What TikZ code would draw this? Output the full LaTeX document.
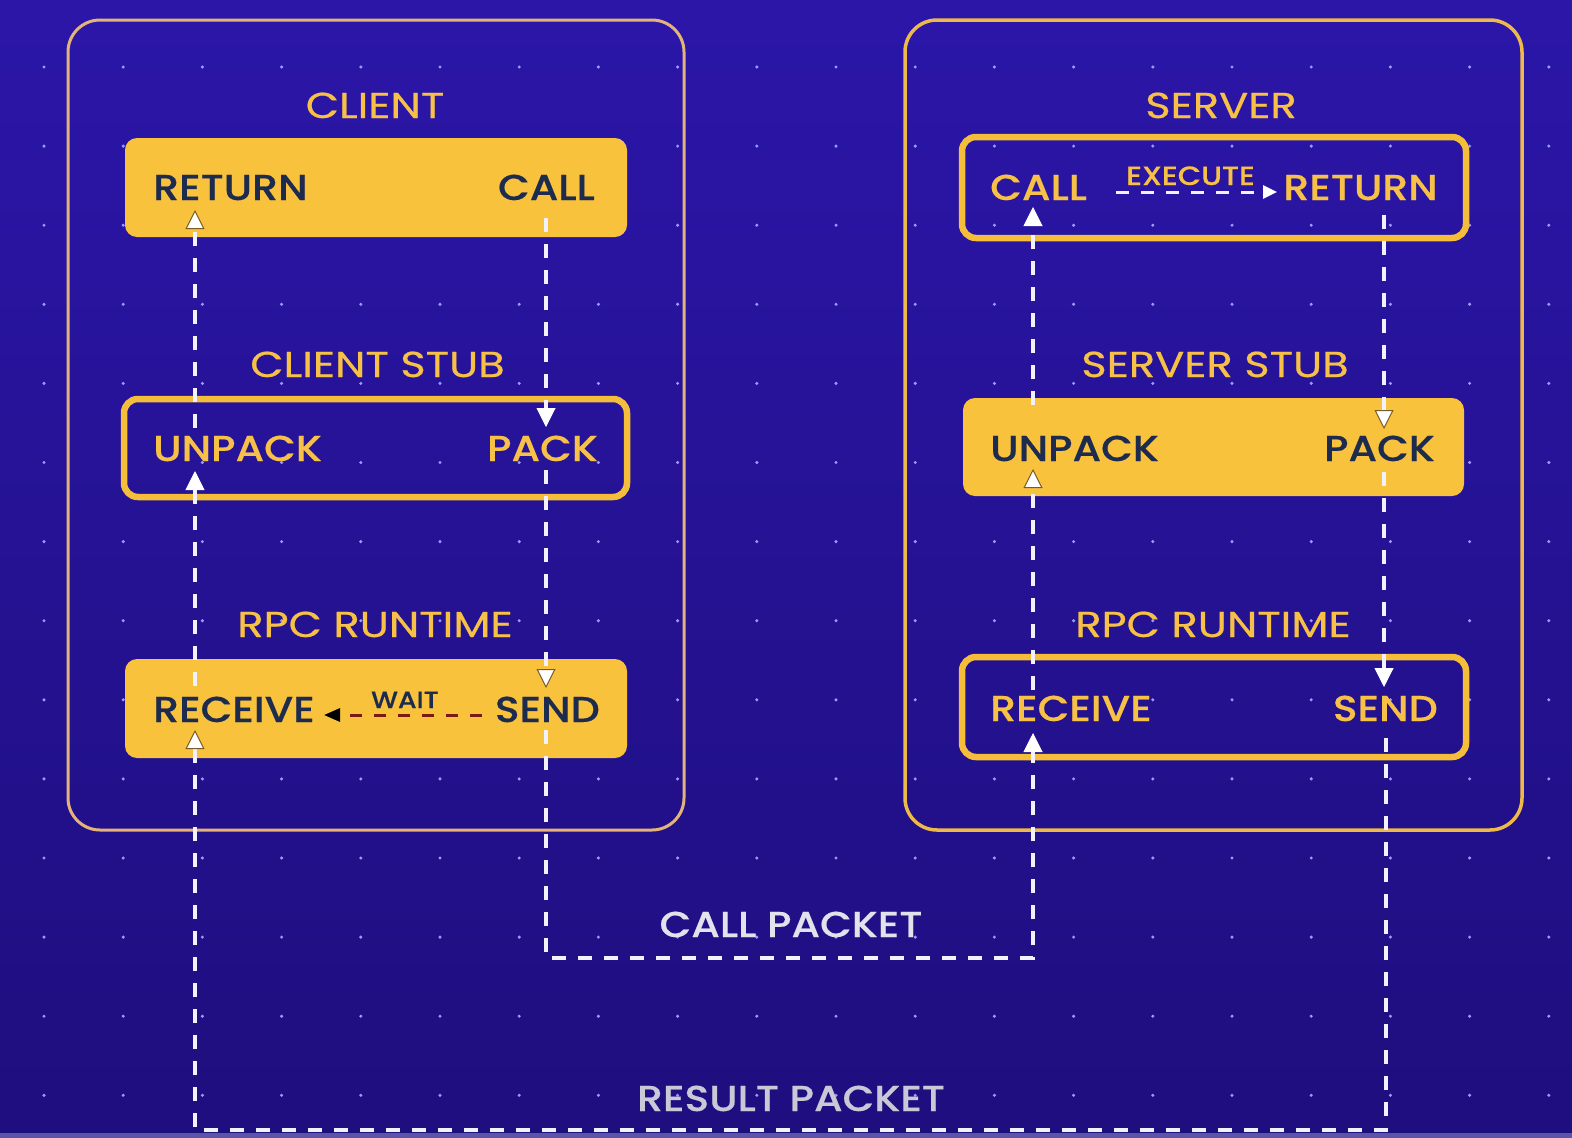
\documentclass[tikz,border=0pt]{standalone}
\usepackage{fontspec}
\usetikzlibrary{arrows.meta}
\IfFontExistsTF{Poppins Medium}{%
  \newfontfamily\lblfont{Poppins Medium}[FakeStretch=1.14,FakeBold=0.4]}{%
  \newfontfamily\lblfont{Poppins}[FakeStretch=1.14,FakeBold=1.8]}
\newfontfamily\ttlfont{Poppins}[FakeStretch=1.2,FakeBold=0.6]
\definecolor{bgtop}{HTML}{2B16A8}
\definecolor{bgmid}{HTML}{2812A0}
\definecolor{bgbot}{HTML}{1E0E7E}
\definecolor{dotc}{HTML}{9A9AFF}
\definecolor{ybox}{HTML}{F9C23C}
\definecolor{yline}{HTML}{F5BE3A}
\definecolor{ytext}{HTML}{F6C146}
\definecolor{navy}{HTML}{1C2B4E}
\definecolor{couterc}{HTML}{E4B37A}
\definecolor{souterc}{HTML}{EDB94A}
\definecolor{lanec}{HTML}{F2F2FF}
\definecolor{tipline}{HTML}{7A5A28}
\definecolor{waitc}{HTML}{7A1A10}
\definecolor{pkt}{HTML}{E2E2EC}
\definecolor{pktb}{HTML}{C8C8D6}
\definecolor{stripc}{HTML}{5B55A8}
\begin{document}
\begin{tikzpicture}[x=1pt,y=-1pt,
  fillbox/.style={draw=none,fill=ybox,rounded corners=12pt,inner sep=0pt},
  linebox/.style={draw=yline,line width=6.5pt,rounded corners=14pt,inner sep=0pt},
  outerbox/.style={line width=3pt,rounded corners=32pt,inner sep=0pt,minimum width=616pt,minimum height=810pt},
  lbl/.style={font=\lblfont\fontsize{36}{40}\selectfont,inner sep=0pt},
  ttl/.style={font=\ttlfont\fontsize{36}{40}\selectfont,inner sep=0pt,text=ytext},
  pktlbl/.style={font=\lblfont\fontsize{36}{40}\selectfont,inner sep=0pt},
  lane/.style={draw=lanec,line width=4pt,dash pattern=on 14pt off 12pt},
  tipy/.style={-{Triangle[width=19pt,length=19pt,fill=white,color=tipline,line width=1pt]}},
  tipb/.style={-{Triangle[width=19pt,length=19pt,fill=white,color=white,line width=1pt]}},
]
\useasboundingbox (0,0) rectangle (1572,1138);
% background
\shade[top color=bgtop,middle color=bgmid,bottom color=bgbot] (0,0) rectangle (1572,1138);
\fill[stripc] (0,1133) rectangle (1572,1138);
% dots
\foreach \i in {0,...,19}{
  \foreach \j in {0,...,13}{
    \fill[dotc] (44+79.2*\i,67+79.1*\j) circle (1.7pt);
  }
}
% outer boxes
\node[outerbox,draw=couterc] (couter) at (376,425) {};
\node[outerbox,draw=souterc,line width=3.5pt,minimum width=617pt] (souter) at (1213.5,425) {};
% client boxes
\node[fillbox,minimum width=502pt,minimum height=99pt] (ctop) at (376,187.5) {};
\node[linebox,minimum width=503pt,minimum height=98pt] (cstub) at (375.5,448) {};
\node[fillbox,minimum width=502pt,minimum height=99pt] (crun) at (376,708.5) {};
% server boxes
\node[linebox,minimum width=504pt,minimum height=101pt] (stop) at (1214,187.5) {};
\node[fillbox,minimum width=501pt,minimum height=98pt] (sstub) at (1213.5,447) {};
\node[linebox,minimum width=504pt,minimum height=100pt] (srun) at (1214,707) {};
% titles
\node[ttl,anchor=base] (tclient) at (375,118) {CLIENT};
\node[ttl,anchor=base] (tcstub) at (377.5,377) {CLIENT STUB};
\node[ttl,anchor=base] (tcrun) at (375,637) {RPC RUNTIME};
\node[ttl,anchor=base] (tserver) at (1221,118) {SERVER};
\node[ttl,anchor=base] (tsstub) at (1215,377) {SERVER STUB};
\node[ttl,anchor=base] (tsrun) at (1213,637) {RPC RUNTIME};
% client labels
\node[lbl,text=navy,anchor=base west] (cret) at (153,200) {RETURN};
\node[lbl,text=navy,anchor=base east] (ccall) at (595,200) {CALL};
\node[lbl,text=ytext,anchor=base west] (cunp) at (153,461) {UNPACK};
\node[lbl,text=ytext,anchor=base east] (cpack) at (598,461) {PACK};
\node[lbl,text=navy,anchor=base west] (crecv) at (153,722) {RECEIVE};
\node[lbl,text=navy,anchor=base east] (csend) at (600,722) {SEND};
% server labels
\node[lbl,text=ytext,anchor=base west] (scall) at (990,200) {CALL};
\node[lbl,text=ytext,anchor=base east] (sret) at (1438,200) {RETURN};
\node[lbl,text=navy,anchor=base west] (sunp) at (990,461) {UNPACK};
\node[lbl,text=navy,anchor=base east] (spack) at (1435,461) {PACK};
\node[lbl,text=ytext,anchor=base west] (srecv) at (990,721) {RECEIVE};
\node[lbl,text=ytext,anchor=base east] (ssend) at (1438,721) {SEND};
% small labels
\node[font=\lblfont\fontsize{26.5}{30}\selectfont,inner sep=0pt,text=ytext,anchor=base west] (exec) at (1126,185) {EXECUTE};
\node[font=\lblfont\fontsize{23.5}{26}\selectfont,inner sep=0pt,text=navy,anchor=base west] (wait) at (371,708) {WAIT};
% packet labels
\node[pktlbl,text=pkt,anchor=base] (callpkt) at (791,937) {CALL PACKET};
\node[pktlbl,text=pktb,anchor=base] (respkt) at (791,1111) {RESULT PACKET};
% lane coordinates
\coordinate (a1) at (546,218);  \coordinate (a1t) at (546,427);
\coordinate (a2) at (546,470);  \coordinate (a2t) at (546,688);
\coordinate (a3) at (546,730);  \coordinate (a3c) at (546,958);
\coordinate (a3d) at (1033,958); \coordinate (a3t) at (1033,733);
\coordinate (b1) at (1033,690); \coordinate (b1t) at (1033,469);
\coordinate (b2) at (1033,405); \coordinate (b2t) at (1033,207);
\coordinate (e1) at (1116,192); \coordinate (e1t) at (1277,192);
\coordinate (c1) at (1384,215); \coordinate (c1t) at (1384,429);
\coordinate (c2) at (1384,472); \coordinate (c2t) at (1384,687);
\coordinate (c3) at (1386,738); \coordinate (c3c) at (1386,1130);
\coordinate (c3d) at (195,1130); \coordinate (c3t) at (195,730);
\coordinate (d1) at (195,686);  \coordinate (d1t) at (195,471);
\coordinate (d2) at (195,428);  \coordinate (d2t) at (195,210);
\coordinate (w1) at (482,715);  \coordinate (w1t) at (324,715);
% lanes
\draw[lane,tipb] (a1) -- (a1t);
\draw[lane,tipy] (a2) -- (a2t);
\draw[lane,tipb] (a3) -- (a3c) -- (a3d) -- (a3t);
\draw[lane,tipy] (b1) -- (b1t);
\draw[lane,tipb] (b2) -- (b2t);
\draw[draw=lanec,line width=3pt,dash pattern=on 13pt off 12pt,-{Triangle[width=13pt,length=14pt,fill=white,color=white]}] (e1) -- (e1t);
\draw[lane,tipy] (c1) -- (c1t);
\draw[lane,tipb] (c2) -- (c2t);
\draw[lane,tipy] (c3) -- (c3c) -- (c3d) -- (c3t);
\draw[lane,tipb] (d1) -- (d1t);
\draw[lane,tipy] (d2) -- (d2t);
\draw[draw=waitc,line width=3pt,dash pattern=on 12pt off 12pt,-{Triangle[width=13pt,length=16pt,fill=black,color=black]}] (w1) -- (w1t);
\end{tikzpicture}
\end{document}
